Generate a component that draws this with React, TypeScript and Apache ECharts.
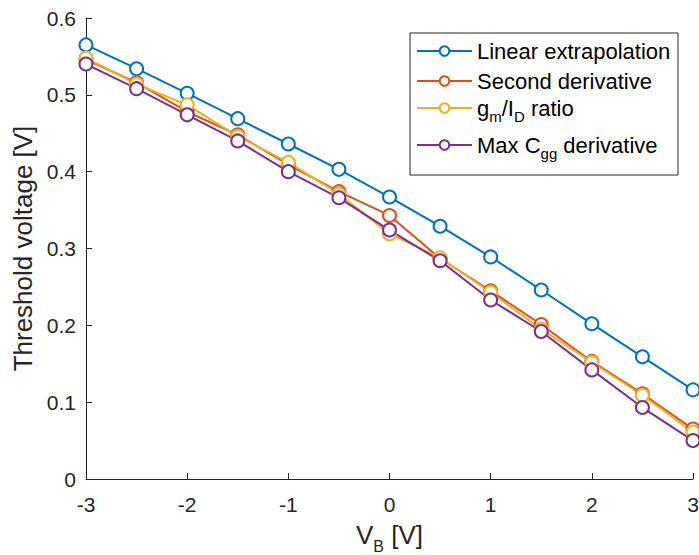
import React, { useEffect, useRef } from "react";
import * as echarts from "echarts";

const vb = [-3, -2.5, -2, -1.5, -1, -0.5, 0, 0.5, 1, 1.5, 2, 2.5, 3];
const linearExtrapolation = [0.565, 0.534, 0.502, 0.469, 0.436, 0.403, 0.367, 0.329, 0.289, 0.246, 0.202, 0.159, 0.116];
const secondDerivative = [0.546, 0.516, 0.478, 0.448, 0.409, 0.374, 0.343, 0.287, 0.245, 0.201, 0.153, 0.111, 0.065];
const gmIdRatio = [0.548, 0.514, 0.487, 0.446, 0.412, 0.371, 0.319, 0.288, 0.243, 0.195, 0.152, 0.109, 0.061];
const maxCggDerivative = [0.540, 0.508, 0.474, 0.440, 0.400, 0.366, 0.324, 0.284, 0.233, 0.192, 0.142, 0.093, 0.050];

const seriesNames = ["Linear extrapolation", "Second derivative", "gm/ID ratio", "Max Cgg derivative"];
const seriesColors = ["#0072BD", "#D95319", "#EDB120", "#7E2F8E"];
const seriesData = [linearExtrapolation, secondDerivative, gmIdRatio, maxCggDerivative];
const legendLabels: Record<string, string> = {
  "Linear extrapolation": "{a|Linear extrapolation}",
  "Second derivative": "{a|Second derivative}",
  "gm/ID ratio": "{a|g}{s|m}{a|/I}{s|D}{a| ratio}",
  "Max Cgg derivative": "{a|Max C}{s|gg}{a| derivative}",
};
const legendTops = [40, 70, 97, 134];

const FONT = "Liberation Sans, Arial, Helvetica, sans-serif";
const AXIS = "#262626";

export default function App() {
  const ref = useRef<HTMLDivElement>(null);
  useEffect(() => {
    if (!ref.current) return;
    const chart = echarts.init(ref.current, undefined, { renderer: "svg" });
    const rich = {
      a: { fontSize: 22, lineHeight: 24, color: "#000", fontFamily: FONT },
      s: { fontSize: 15, padding: [16, 0, 0, 0], color: "#000", fontFamily: FONT },
    };
    chart.setOption({
      animation: false,
      backgroundColor: "#fff",
      textStyle: { fontFamily: FONT },
      grid: { left: 86, right: 6, top: 18, bottom: 76, containLabel: false, outerBoundsMode: "none" },
      xAxis: {
        type: "value",
        min: -3,
        max: 3,
        interval: 1,
        name: "{a|V}{s|B}{a| [V]}",
        nameLocation: "middle",
        nameGap: 37,
        nameTextStyle: {
          rich: {
            a: { fontSize: 26, lineHeight: 28, color: AXIS, fontFamily: FONT },
            s: { fontSize: 16, padding: [22, 0, 0, 0], color: AXIS, fontFamily: FONT },
          },
        },
        axisLine: { show: true, onZero: false, lineStyle: { color: AXIS, width: 1 } },
        axisTick: { show: true, inside: true, length: 6, lineStyle: { color: AXIS } },
        axisLabel: { fontSize: 21, color: AXIS, margin: 15, fontFamily: FONT },
        splitLine: { show: false },
      },
      yAxis: {
        type: "value",
        min: 0,
        max: 0.6,
        interval: 0.1,
        name: "Threshold voltage [V]",
        nameLocation: "middle",
        nameRotate: 90,
        nameGap: 49,
        nameTextStyle: { fontSize: 26, color: AXIS, fontFamily: FONT },
        axisLine: { show: true, onZero: false, lineStyle: { color: AXIS, width: 1 } },
        axisTick: { show: true, inside: true, length: 6, lineStyle: { color: AXIS } },
        axisLabel: { fontSize: 21, color: AXIS, margin: 10, fontFamily: FONT },
        splitLine: { show: false },
      },
      graphic: [
        {
          type: "rect",
          z: 3,
          shape: { x: 410, y: 33, width: 268, height: 142 },
          style: { fill: "#fff", stroke: "#262626", lineWidth: 1 },
        },
      ],
      legend: seriesNames.map((name, i) => ({
        data: [name],
        left: 416,
        top: legendTops[i],
        padding: 0,
        itemWidth: 55,
        itemHeight: 12,
        z: 5,
        formatter: (n: string) => legendLabels[n],
        textStyle: { rich },
      })),
      series: seriesNames.map((name, i) => ({
        name,
        type: "line",
        data: vb.map((x, j) => [x, seriesData[i][j]]),
        symbol: "emptyCircle",
        symbolSize: 13,
        color: seriesColors[i],
        lineStyle: { width: 2, color: seriesColors[i] },
        itemStyle: { color: seriesColors[i], borderWidth: 2 },
        emphasis: { disabled: true },
      })),
    });
    return () => chart.dispose();
  }, []);
  return <div ref={ref} style={{ width: 699, height: 555, position: "absolute", left: 0, top: 0 }} />;
}
